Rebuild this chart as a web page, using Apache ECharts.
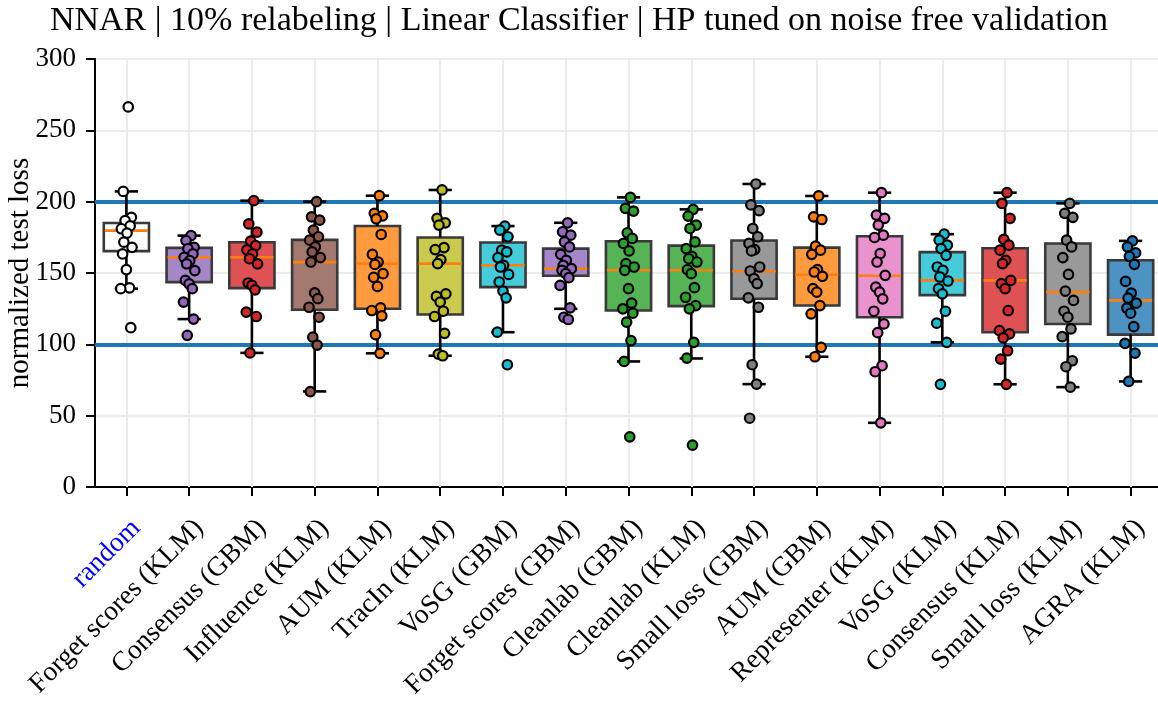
<!DOCTYPE html>
<html>
<head>
<meta charset="utf-8">
<script src="https://cdn.jsdelivr.net/npm/echarts@6/dist/echarts.min.js"></script>
<style>html,body{margin:0;padding:0;background:#fff}#chart{width:1158px;height:703px}</style>
</head>
<body>
<div id="chart"></div>
<script>
const titleText = 'NNAR | 10% relabeling | Linear Classifier | HP tuned on noise free validation';
const yAxisName = 'normalized test loss';
const categories = ['random','Forget scores (KLM)','Consensus (GBM)','Influence (KLM)','AUM (KLM)','TracIn (KLM)','VoSG (GBM)','Forget scores (GBM)','Cleanlab (GBM)','Cleanlab (KLM)','Small loss (GBM)','AUM (GBM)','Representer (KLM)','VoSG (KLM)','Consensus (KLM)','Small loss (KLM)','AGRA (KLM)'];
const yTicks = [0, 50, 100, 150, 200, 250, 300];
const referenceLines = [100, 200];

const whiskerLow  = [139, 117.7, 94, 67, 93.7, 92, 108.5, 124.9, 88, 90.1, 72.1, 91.3, 45, 101.4, 72, 70, 74];
const q1          = [165.3, 143.6, 139.4, 124.2, 124.9, 120.9, 140.1, 148.1, 123.7, 126.8, 131.9, 127.2, 119, 134.5, 108.5, 114.3, 106.8];
const median      = [179.7, 161, 161, 157.6, 156.6, 156.6, 155.4, 153, 151.9, 151.9, 151.2, 148.8, 148.1, 144.8, 144.8, 136.6, 130.8];
const q3          = [185, 167.6, 171.6, 173.2, 182.9, 174.9, 171.4, 167.1, 172.3, 169.2, 172.8, 167.8, 175.8, 164.6, 167.4, 170.7, 158.9];
const whiskerHigh = [207.2, 176.2, 200.7, 200, 204.2, 208.2, 182.9, 185.2, 203, 194.6, 212.4, 204, 206.3, 177.2, 206.3, 198.8, 172.5];

const pRandom = [266.4, 207.2, 189, 186.7, 183, 181, 178, 171.6, 168, 163.4, 152.4, 139.6, 139, 111.7];
const pForgetKLM = [176.2, 172.7, 168, 167, 163.4, 161, 158.7, 156.4, 151.7, 144.8, 142.4, 139, 129.6, 117.7, 106.3];
const pConsensusGBM = [200.7, 184.4, 178.6, 172.3, 169.2, 166.2, 163.4, 160, 156.4, 143, 141.3, 138.2, 122.6, 119.5, 94];
const pInfluenceKLM = [200, 189.4, 187, 180, 175.4, 173, 168.3, 164.8, 160.8, 157.7, 136, 132, 126, 119, 105, 99.5, 66.9];
const pAumKLM = [204.2, 191.8, 190, 188, 177, 163, 157.7, 156, 149.5, 147, 140.6, 125.6, 123.7, 120, 106.8, 93.7];
const pTracInKLM = [208.2, 188.3, 185.2, 183.6, 167.8, 166.4, 159.4, 156.6, 135.4, 133.6, 129.6, 123.2, 119.5, 107.7, 93.2, 92];
const pVosgGBM = [182.9, 180, 175.4, 166, 164.8, 160.8, 155.4, 154.2, 149, 143.7, 137.3, 132.6, 108.5, 85.7];
const pForgetGBM = [185.2, 178.9, 176.5, 171.8, 168.3, 163.1, 158.9, 155.4, 153, 151.9, 149.5, 146.7, 141.3, 125.6, 119, 117.4];
const pCleanlabGBM = [203, 195.3, 193.4, 178.2, 174.2, 170.7, 165.5, 156.6, 154.2, 151.9, 139, 128.9, 124.9, 121.8, 115.5, 102.6, 88, 35.2];
const pCleanlabKLM = [194.6, 189.9, 183.6, 181.2, 171.8, 167.1, 161.7, 160, 157.7, 152.3, 149.5, 139.7, 133, 127.2, 124.9, 101.4, 90.4, 29.3];
const pSmallLossGBM = [212.4, 197.7, 193.7, 181.2, 175.4, 170.7, 166.4, 165.5, 154.2, 151.4, 146, 142.5, 132.6, 126, 85.7, 72.1, 48.2];
const pAumGBM = [204, 189.4, 187.5, 168.8, 166, 163.1, 152.3, 150.7, 147.7, 139, 136.6, 127.2, 121.4, 97.9, 91.3];
const pRepresenterKLM = [206.3, 190.6, 188.3, 183.6, 176.5, 174.9, 163.6, 157.7, 148.4, 140.1, 136.6, 131.9, 123.2, 114.3, 108.2, 85, 80.8, 45];
const pVosgKLM = [177.2, 173, 169.5, 167.1, 162.4, 154.2, 151.9, 147.2, 144.4, 139, 135.4, 123.2, 114.8, 101.4, 72];
const pConsensusKLM = [206.3, 198.8, 188.3, 173.5, 169.5, 166, 158.9, 156.6, 144.8, 142.5, 139, 123.7, 109.6, 107.3, 104.5, 95.5, 89.7, 72];
const pSmallLossKLM = [198.8, 191.8, 189, 173, 168.3, 160.8, 149, 137.3, 130.8, 123.2, 119, 110.8, 105.4, 88.5, 84.3, 70];
const pAgraKLM = [172.5, 168.3, 164.1, 161.7, 156.1, 144.1, 135.9, 132.4, 128.9, 125.4, 121.8, 112.4, 100.7, 93.9, 74];

const points = [pRandom, pForgetKLM, pConsensusGBM, pInfluenceKLM, pAumKLM, pTracInKLM, pVosgGBM, pForgetGBM, pCleanlabGBM, pCleanlabKLM, pSmallLossGBM, pAumGBM, pRepresenterKLM, pVosgKLM, pConsensusKLM, pSmallLossKLM, pAgraKLM];

// styling
const boxFill = ['#ffffff','#a586c9','#de5253','#a3786f','#ff9a3e','#c9ca4e','#45cbd9','#a586c9','#56b356','#56b356','#999999','#ff9a3e','#e992ce','#45cbd9','#de5253','#999999','#4c92c3'];
const pointFill = ['#ffffff','#9467bd','#d62728','#8c564b','#ff7f0e','#bcbd22','#17becf','#9467bd','#2ca02c','#2ca02c','#7f7f7f','#ff7f0e','#e377c2','#17becf','#d62728','#7f7f7f','#1f77b4'];
const jitter = [0.03,-0.05,0.08,-0.02,0.06,-0.08,0.01,-0.04,0.09,-0.06,0.0,0.05,-0.09,0.07,-0.03,0.04,-0.07,0.02];

const FONT = 'Liberation Serif';
const chart = echarts.init(document.getElementById('chart'), null, {renderer: 'canvas'});

const boxData = categories.map((c, i) => [i, whiskerLow[i], q1[i], median[i], q3[i], whiskerHigh[i]]);

const LW = 2.6;
function vBar(x, y1, y2, color) {
  const top = Math.min(y1, y2), h = Math.abs(y2 - y1);
  return {type: 'rect', shape: {x: x - LW / 2, y: top, width: LW, height: h}, style: {fill: color, stroke: null}};
}
function hBar(x1, x2, y, color) {
  return {type: 'rect', shape: {x: x1, y: y - LW / 2, width: x2 - x1, height: LW}, style: {fill: color, stroke: null}};
}

const series = [];
series.push({
  type: 'scatter', xAxisIndex: 1, yAxisIndex: 0, data: [], z: 1, silent: true,
  markLine: {
    z: 1, zlevel: 0, silent: true, symbol: ['none','none'], label: {show: false},
    lineStyle: {color: '#ebebeb', width: 2, type: 'solid'},
    animation: false,
    data: categories.map((c, i) => ({xAxis: i}))
  }
});
series.push({
  type: 'scatter', xAxisIndex: 1, yAxisIndex: 0, data: [], z: 2, silent: true,
  markLine: {
    z: 2, zlevel: 0, silent: true, symbol: ['none','none'], label: {show: false},
    lineStyle: {color: '#1f77b4', width: 3.8, type: 'solid'},
    animation: false,
    data: referenceLines.map(v => ({yAxis: v}))
  }
});
series.push({
  type: 'custom', xAxisIndex: 0, yAxisIndex: 0, z: 3, silent: true,
  data: boxData,
  encode: {x: 0, y: [1,2,3,4,5]},
  renderItem: function (params, api) {
    const i = api.value(0);
    const band = api.size([1, 0])[0];
    const hw = band * 0.36;
    const cw = band * 0.185;
    const pLow = api.coord([i, api.value(1)]);
    const pQ1 = api.coord([i, api.value(2)]);
    const pMed = api.coord([i, api.value(3)]);
    const pQ3 = api.coord([i, api.value(4)]);
    const pHigh = api.coord([i, api.value(5)]);
    const x = pMed[0];
    return {
      type: 'group',
      children: [
        {type: 'rect', shape: {x: x - hw, y: pQ3[1], width: 2*hw, height: pQ1[1] - pQ3[1]},
         style: {fill: boxFill[i], stroke: '#3a3a3a', lineWidth: 2.6}},
        vBar(x, pQ3[1], pHigh[1], '#000'),
        vBar(x, pQ1[1], pLow[1], '#000'),
        hBar(x - cw, x + cw, pHigh[1], '#000'),
        hBar(x - cw, x + cw, pLow[1], '#000'),
        hBar(x - hw + 1, x + hw - 1, pMed[1], '#ff7f0e')
      ]
    };
  }
});
points.forEach((arr, i) => {
  series.push({
    type: 'scatter', xAxisIndex: 1, yAxisIndex: 0, z: 4, silent: true,
    symbol: 'circle', symbolSize: 9.5,
    itemStyle: {color: pointFill[i], borderColor: '#000', borderWidth: 2.2, opacity: 1},
    data: arr.map((v, j) => [i + jitter[j % jitter.length], v])
  });
});

chart.setOption({
  animation: false,
  backgroundColor: '#fff',
  title: {
    text: titleText, left: 'center', top: -1,
    textStyle: {fontFamily: FONT, fontSize: 34, fontWeight: 'normal', color: '#000'}
  },
  grid: {left: 95, right: -4, top: 59, bottom: 216, show: true, borderColor: '#000', borderWidth: 2,
         backgroundColor: 'transparent', containLabel: false, outerBoundsMode: 'none'},
  xAxis: [
    {
      type: 'category', data: categories, boundaryGap: true,
      axisLine: {show: true, onZero: false, lineStyle: {color: '#000', width: 2}},
      axisTick: {show: true, alignWithLabel: true, length: 9, lineStyle: {color: '#000', width: 2}},
      splitLine: {show: false},
      axisLabel: {
        rotate: 45, margin: 27, interval: 0, fontFamily: FONT, fontSize: 27.5, verticalAlign: 'top',
        color: function (v, idx) { return idx === 0 ? '#0000ff' : '#000'; }
      }
    },
    {type: 'value', min: -0.5, max: 16.5, show: false}
  ],
  yAxis: {
    type: 'value', min: yTicks[0], max: yTicks[yTicks.length-1], interval: 50,
    name: yAxisName, nameLocation: 'middle', nameGap: 60, nameRotate: 90, nameMoveOverlap: false,
    nameTextStyle: {fontFamily: FONT, fontSize: 29, color: '#000'},
    axisLine: {show: true, onZero: false, lineStyle: {color: '#000', width: 2}},
    axisTick: {show: true, inside: false, length: 9, lineStyle: {color: '#000', width: 2}},
    axisLabel: {margin: 19, fontFamily: FONT, fontSize: 27, color: '#000'},
    splitLine: {show: true, lineStyle: {color: '#ebebeb', width: 2}}
  },
  series: series
});
</script>
</body>
</html>
